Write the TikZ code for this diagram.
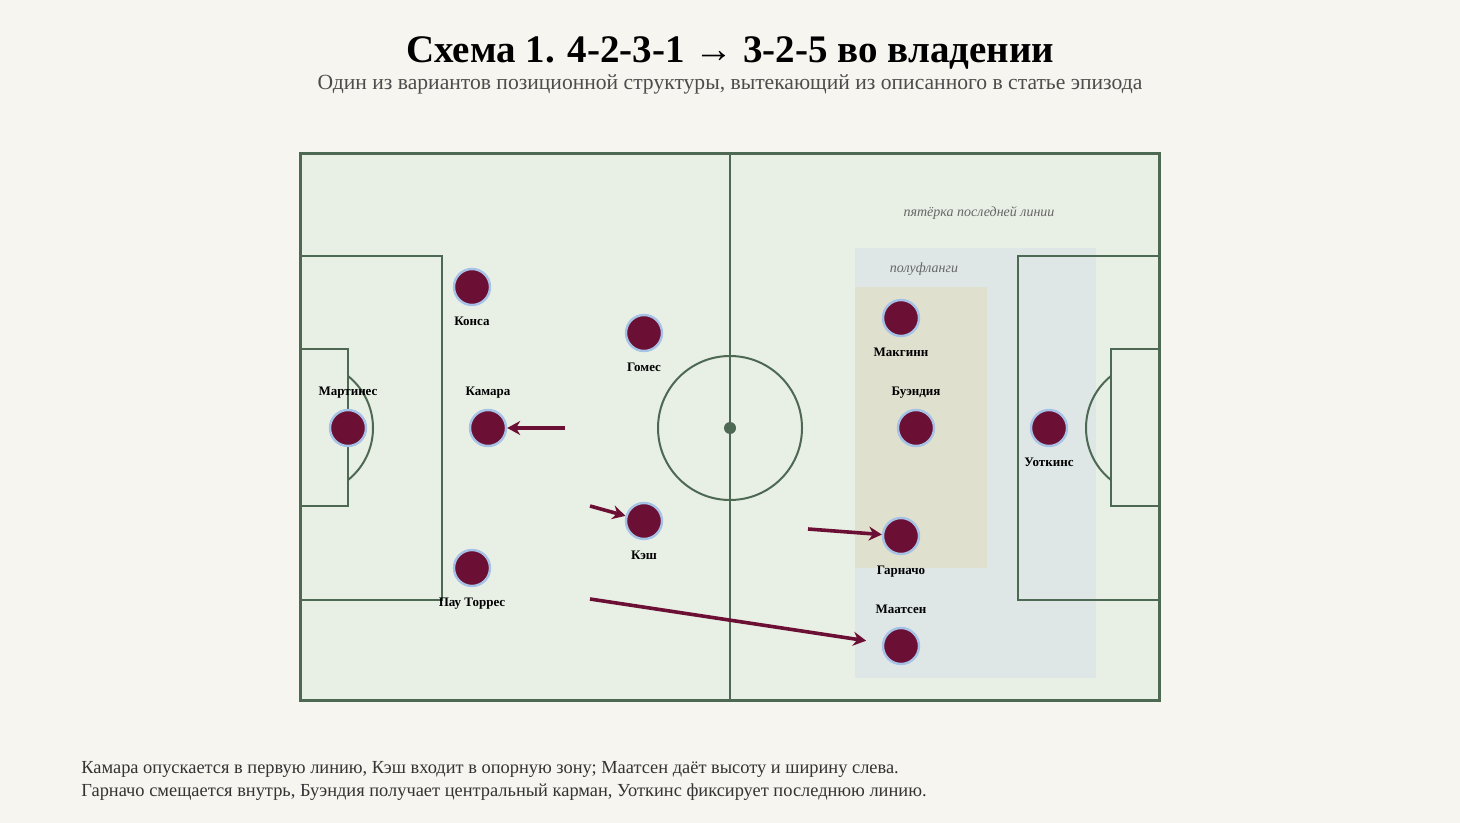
\documentclass[tikz,border=0pt]{standalone}
\usepackage{fontspec}
\setmainfont{Liberation Serif}
\usetikzlibrary{arrows.meta}
\definecolor{paper}{HTML}{F7F5EF}
\definecolor{grass}{HTML}{E8EFE5}
\definecolor{chalk}{HTML}{4D6853}
\definecolor{claret}{HTML}{6B1034}
\definecolor{skyrim}{HTML}{A6C2E6}
\definecolor{zoneback}{HTML}{DEE7E5}
\definecolor{zonehalf}{HTML}{DFE0CE}
\begin{document}
\begin{tikzpicture}[x=0.5pt,y=-0.5pt,
  player/.style={circle,fill=claret,draw=skyrim,line width=1.2pt,minimum size=18pt,inner sep=0pt},
  plabel/.style={font=\bfseries\fontsize{6.5}{7}\selectfont,inner sep=1pt,text height=4.5pt,text depth=1.2pt},
  tagup/.style={plabel,label distance=4.5pt},
  tagdown/.style={plabel,label distance=4pt},
  move/.style={draw=claret,line width=1.8pt,-{Stealth[length=6.5pt,width=7pt]}},
  pitchline/.style={draw=chalk,line width=1pt},
  zonetag/.style={font=\itshape\fontsize{7}{8}\selectfont,text=black!60}]
  \useasboundingbox[fill=paper] (0,0) rectangle (1460,823);
  % titles
  \node (title) at (730,53) {\bfseries\fontsize{19.5}{22}\selectfont Схема 1. 4-2-3-1 → 3-2-5 во владении};
  \node[text=black!70] (subtitle) at (730,84) {\fontsize{10.8}{12}\selectfont Один из вариантов позиционной структуры, вытекающий из описанного в статье эпизода};
  % pitch
  \fill[grass] (300,154) rectangle (1159,700);
  \fill[zoneback] (855,248) rectangle (1096,678);
  \fill[zonehalf] (855,287) rectangle (987,568);
  \draw[pitchline] (730,154) -- (730,700);
  \draw[pitchline] (730,428) circle (72);
  \fill[chalk] (730,428) circle (6);
  \draw[pitchline] (300,256) rectangle (442,600) (300,349) rectangle (348,506);
  \draw[pitchline] (1159,256) rectangle (1018,600) (1159,349) rectangle (1111,506);
  \begin{scope}
    \clip (348,300) rectangle (450,560);
    \draw[pitchline] (306.4,428) circle (66.6);
  \end{scope}
  \begin{scope}
    \clip (1111,300) rectangle (1010,560);
    \draw[pitchline] (1152.6,428) circle (66.6);
  \end{scope}
  \draw[chalk,line width=1.5pt] (300,154) rectangle (1159,700);
  \node[zonetag] (lastfive) at (979,213) {пятёрка последней линии};
  \node[zonetag] (halfwings) at (924,269) {полуфланги};
  % players
  \node[player,label={[tagup]above:Мартинес}] (martinez) at (348,428) {};
  \node[player,label={[tagdown]below:Конса}] (konsa) at (472,287) {};
  \node[player,label={[tagup]above:Камара}] (kamara) at (488,428) {};
  \node[player,label={[tagdown]below:Пау Торрес}] (torres) at (472,568) {};
  \node[player,label={[tagdown]below:Гомес}] (gomes) at (644,333) {};
  \node[player,label={[tagdown]below:Кэш}] (cash) at (644,521) {};
  \node[player,label={[tagdown]below:Макгинн}] (mcginn) at (901,318) {};
  \node[player,label={[tagup]above:Буэндия}] (buendia) at (916,428) {};
  \node[player,label={[tagdown]below:Гарначо}] (garnacho) at (901,536) {};
  \node[player,label={[tagup]above:Маатсен}] (maatsen) at (901,646) {};
  \node[player,label={[tagdown]below:Уоткинс}] (watkins) at (1049,428) {};
  % runs
  \coordinate (kamarafrom) at (565,428);
  \coordinate (cashfrom) at (590,506);
  \coordinate (garnachofrom) at (808,529);
  \coordinate (maatsenfrom) at (590,599);
  \draw[move] (kamarafrom) -- (kamara);
  \draw[move] (cashfrom) -- (cash);
  \draw[move] (garnachofrom) -- (garnacho);
  \draw[move,shorten >=8pt] (maatsenfrom) -- (maatsen);
  % notes
  \node[anchor=base west,inner sep=0pt,text=black!80,font=\fontsize{9.2}{11}\selectfont] (noteone) at (81,773) {Камара опускается в первую линию, Кэш входит в опорную зону; Маатсен даёт высоту и ширину слева.};
  \node[anchor=base west,inner sep=0pt,text=black!80,font=\fontsize{9.2}{11}\selectfont] (notetwo) at (81,796) {Гарначо смещается внутрь, Буэндия получает центральный карман, Уоткинс фиксирует последнюю линию.};
\end{tikzpicture}
\end{document}
